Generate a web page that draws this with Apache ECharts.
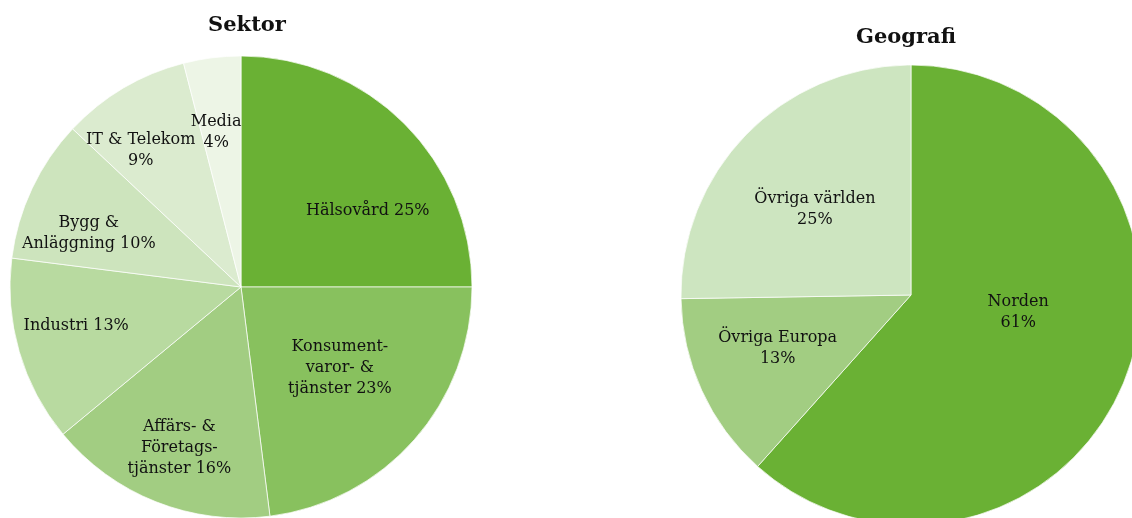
<!DOCTYPE html>
<html>
<head>
<meta charset="utf-8">
<script src="https://cdn.jsdelivr.net/npm/echarts@6/dist/echarts.min.js"></script>
<style>
html,body{margin:0;padding:0;background:#fff;}
#c{width:1132px;height:518px;}
</style>
</head>
<body>
<div id="c"></div>
<script>
// ---- Data ----
const sektorNames = ['Hälsovård', 'Konsument-\nvaror- &\ntjänster', 'Affärs- &\nFöretags-\ntjänster', 'Industri', 'Bygg &\nAnläggning', 'IT & Telekom', 'Media'];
const sektorValues = [25, 23, 16, 13, 10, 9, 4];
const sektorSep = [' ', ' ', ' ', ' ', ' ', '\n', '\n'];

const geoNames = ['Norden', 'Övriga Europa', 'Övriga världen'];
const geoValues = [61, 13, 25];
const geoSep = ['\n', '\n', '\n'];

const titles = ['Sektor', 'Geografi'];

// ---- Styles ----
const sektorColors = ['#6ab134', '#88c15e', '#a2cd82', '#b8daa0', '#cde4bd', '#dbebcf', '#edf5e6'];
const geoColors = ['#6ab134', '#a2cd82', '#cde5c0'];
const sektorOffsets = [[43, 8], [10, 2], [-18, 51], [-51, 6], [-45, -3], [-40, -35], [-10, -37]];
const geoOffsets = [[-3, -25], [-26, 4], [-12, -3]];

const FONT = '"DejaVu Serif", Georgia, serif';

function mk(names, values, colors, sep) {
  return names.map((n, i) => ({
    name: n, value: values[i],
    itemStyle: { color: colors[i] },
    label: { formatter: (p) => p.name + sep[i] + p.value + '%' }
  }));
}

const chart = echarts.init(document.getElementById('c'), null, { renderer: 'canvas' });
chart.setOption({
  backgroundColor: '#ffffff',
  animation: false,
  title: [
    { text: titles[0], left: 242, top: 10, textAlign: 'center',
      textStyle: { fontFamily: FONT, fontWeight: 'bold', fontSize: 21, color: '#111' } },
    { text: titles[1], left: 901, top: 22, textAlign: 'center',
      textStyle: { fontFamily: FONT, fontWeight: 'bold', fontSize: 21, color: '#111' } }
  ],
  series: [
    {
      type: 'pie', center: [241, 287], radius: [0, 231], startAngle: 90, clockwise: true,
      avoidLabelOverlap: false,
      itemStyle: { borderColor: 'rgba(255,255,255,0.7)', borderWidth: 1 },
      label: { show: true, position: 'inner', fontFamily: FONT, fontSize: 16, lineHeight: 21, color: '#111', align: 'center' },
      labelLine: { show: false },
      labelLayout: (p) => ({ dx: sektorOffsets[p.dataIndex][0], dy: sektorOffsets[p.dataIndex][1] }),
      emphasis: { disabled: true },
      data: mk(sektorNames, sektorValues, sektorColors, sektorSep)
    },
    {
      type: 'pie', center: [911, 295], radius: [0, 230], startAngle: 90, clockwise: true,
      avoidLabelOverlap: false,
      itemStyle: { borderColor: 'rgba(255,255,255,0.7)', borderWidth: 1 },
      label: { show: true, position: 'inner', fontFamily: FONT, fontSize: 16, lineHeight: 21, color: '#111', align: 'center' },
      labelLine: { show: false },
      labelLayout: (p) => ({ dx: geoOffsets[p.dataIndex][0], dy: geoOffsets[p.dataIndex][1] }),
      emphasis: { disabled: true },
      data: mk(geoNames, geoValues, geoColors, geoSep)
    }
  ]
});
</script>
</body>
</html>
